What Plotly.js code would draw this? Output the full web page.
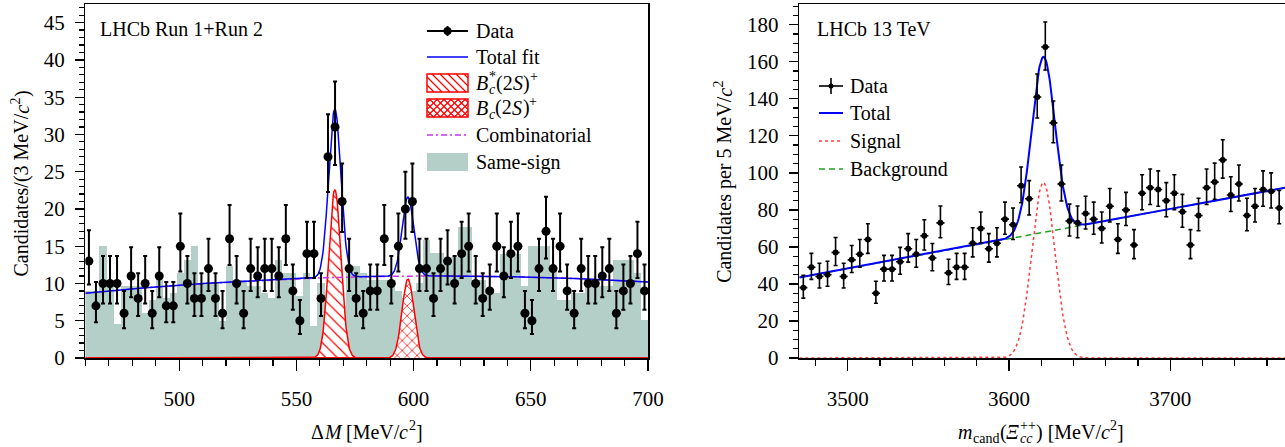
<!DOCTYPE html>
<html><head><meta charset="utf-8">
<script src="https://cdn.plot.ly/plotly-3.0.1.min.js"></script>
<style>html,body{margin:0;padding:0;background:#fff}#chart{width:1285px;height:447px}</style>
</head><body><div id="chart"></div>
<script>
// ---------------- Left panel: Delta M ----------------
const leftBinStart = 460, leftBinWidth = 3;
const leftCounts = [13,7,10,10,10,6,11,8,10,6,11,7,7,15,10,8,8,12,8,6,16,10,6,12,11,12,12,
  11,16,9,5,14,14,8,27,31,21,12,8,
  6,9,9,16,10,15,20,21,12,12,8,12,13,10,14,15,10,8,9,15,11,14,15,6,5,12,17,12,15,9,6,12,10,10,11,12,6,9,10,14,9];
const sameSign = [9.0,9.0,15,9.6,4.5,9.6,9.6,9.6,6,7.8,10.5,8,8.7,11.4,13.2,15,10,10,10,5,12.3,10.5,10.5,9.6,9.6,8.7,8,
  13.2,11.4,11.4,8.3,11.4,4.3,10,8,9,7,12.3,12.3,11.4,10.5,10.5,10.5,9.5,9,8,9,10,15.9,14.1,14.1,13.6,13.6,17.6,17.6,
  10.5,10.5,8.7,8.7,14,14,14,9.6,15,15,15,12.3,7.8,7.8,8.7,8.7,9.6,9.6,9.6,9.6,13.2,13.2,13.2,11.4,5.1];
// fit parameters
const combPar = {a: 8.7, b: 0.03068, c: -1.018e-4, x0: 460};
const bcStar = {mean: 566.4, amp: 22.6, sigma: 2.6};
const bc2S = {mean: 597.6, amp: 10.6, sigma: 2.5};

// ---------------- Right panel: Xi_cc ----------------
const rightBinStart = 3470, rightBinWidth = 5;
const rightCounts = [38,49,44,45,57,44,53,56,64,35,48,48,52,59,56,66,54,73,46,49,49,62,70,59,62,75,72,93,
  86,141,168,127,94,74,73,78,75,70,82,64,80,61,89,92,91,85,89,79,61,77,92,95,107,88,94,77,82,91,90,81];
const bkgPar = {a: 43.5, slope: 0.161, x0: 3470};
const sigPar = {mean: 3621.3, amp: 94.8, sigma: 7.2};

// tick labels
const leftXTicks = [500,550,600,650,700];
const leftYTicks = [0,5,10,15,20,25,30,35,40,45];
const rightXTicks = [3500,3600,3700];
const rightYTicks = [0,20,40,60,80,100,120,140,160,180];

// texts (rich pieces: i = italic, sup/sub = script, stack = no advance)
const leftLegend = ['Data', 'Total fit',
  [{t: 'B', i: 1}, {t: 'c', i: 1, sub: 1, stack: 1}, {t: '*', sup: 1}, '(2', {t: 'S', i: 1}, ')', {t: '+', sup: 1}],
  [{t: 'B', i: 1}, {t: 'c', i: 1, sub: 1}, '(2', {t: 'S', i: 1}, ')', {t: '+', sup: 1}],
  'Combinatorial', 'Same-sign'];
const rightLegend = ['Data', 'Total', 'Signal', 'Background'];
const leftYTitle = ['Candidates/(3 MeV/', {t: 'c', i: 1}, {t: '2', sup: 1}, ')'];
const rightYTitle = ['Candidates per 5 MeV/', {t: 'c', i: 1}, {t: '2', sup: 1}];
const leftXTitle = ['Δ', {t: 'M', i: 1}, ' [MeV/', {t: 'c', i: 1}, {t: '2', sup: 1}, ']'];
const rightXTitle = [{t: 'm', i: 1}, {t: 'cand', sub: 1}, '(', {t: 'Ξ', i: 1}, {t: '++', sup: 1, stack: 1}, {t: 'cc', i: 1, sub: 1},
  ') [MeV/', {t: 'c', i: 1}, {t: '2', sup: 1}, ']'];

// ---------------- helpers ----------------
const W = 1285, H = 447, MT = 4, MB = 89, PH = H - MT - MB;
const pX = x => x / W;
const pY = y => (H - MB - y) / PH;
const FONTNAME = 'Liberation Serif';
const FONT = 'Liberation Serif, Times New Roman, serif';
const gauss = (x, g) => g.amp * Math.exp(-0.5 * Math.pow((x - g.mean) / g.sigma, 2));
const errUp = n => 0.5 + Math.sqrt(n + 0.25);
const errDn = n => -0.5 + Math.sqrt(n + 0.25);

const lx = leftCounts.map((_, i) => leftBinStart + leftBinWidth * (i + 0.5));
const rx = rightCounts.map((_, i) => rightBinStart + rightBinWidth * (i + 0.5));

const fineL = [], fineR = [];
for (let x = 460; x <= 700.001; x += 0.25) fineL.push(x);
for (let x = 3470; x <= 3772.001; x += 0.5) fineR.push(x);
const comb = x => combPar.a + combPar.b * (x - combPar.x0) + combPar.c * Math.pow(x - combPar.x0, 2);
const bkg = x => bkgPar.a + bkgPar.slope * (x - bkgPar.x0);

const RED = '#ff0000', BLUE = '#0000ff', MAG = '#cc33ee', TEAL = '#b3cfc7', GREEN = '#22a022', SIGRED = '#ff3b3b';

const traces = [
  {type: 'bar', x: lx, y: sameSign, width: leftBinWidth, marker: {color: TEAL, line: {width: 0}},
   xaxis: 'x', yaxis: 'y', showlegend: false, hoverinfo: 'skip'},
  {type: 'scatter', mode: 'lines', x: fineL, y: fineL.map(x => gauss(x, bcStar)), fill: 'tozeroy',
   fillcolor: 'white', fillpattern: {shape: '\\', fgcolor: RED, bgcolor: 'white', size: 8, solidity: 0.15},
   line: {color: RED, width: 1.5}, xaxis: 'x', yaxis: 'y', showlegend: false},
  {type: 'scatter', mode: 'lines', x: fineL, y: fineL.map(x => gauss(x, bc2S)), fill: 'tozeroy',
   fillcolor: 'white', fillpattern: {shape: 'x', fgcolor: RED, bgcolor: 'white', size: 7, solidity: 0.2},
   line: {color: RED, width: 1.5}, xaxis: 'x', yaxis: 'y', showlegend: false},
  {type: 'scatter', mode: 'lines', x: fineL, y: fineL.map(comb),
   line: {color: MAG, width: 1.5, dash: '6px,3px,2px,3px'}, xaxis: 'x', yaxis: 'y', showlegend: false},
  {type: 'scatter', mode: 'lines', x: fineL, y: fineL.map(x => comb(x) + gauss(x, bcStar) + gauss(x, bc2S)),
   line: {color: BLUE, width: 1.5}, xaxis: 'x', yaxis: 'y', showlegend: false},
  {type: 'scatter', mode: 'markers', x: lx, y: leftCounts, marker: {color: 'black', size: 9},
   error_y: {type: 'data', symmetric: false, array: leftCounts.map(errUp), arrayminus: leftCounts.map(errDn), color: 'black', thickness: 2, width: 2},
   error_x: {type: 'constant', value: leftBinWidth / 2, color: 'black', thickness: 2, width: 0},
   xaxis: 'x', yaxis: 'y', showlegend: false},
  // right
  {type: 'scatter', mode: 'lines', x: fineR, y: fineR.map(x => gauss(x, sigPar)),
   line: {color: SIGRED, width: 1.5, dash: 'dot'}, xaxis: 'x2', yaxis: 'y2', showlegend: false},
  {type: 'scatter', mode: 'lines', x: fineR, y: fineR.map(bkg),
   line: {color: GREEN, width: 1.5, dash: '6px,4px'}, xaxis: 'x2', yaxis: 'y2', showlegend: false},
  {type: 'scatter', mode: 'lines', x: fineR, y: fineR.map(x => bkg(x) + gauss(x, sigPar)),
   line: {color: BLUE, width: 2}, xaxis: 'x2', yaxis: 'y2', showlegend: false},
  {type: 'scatter', mode: 'markers', x: rx, y: rightCounts, marker: {color: 'black', size: 6},
   error_y: {type: 'data', symmetric: false, array: rightCounts.map(errUp), arrayminus: rightCounts.map(errDn), color: 'black', thickness: 1.6, width: 2},
   error_x: {type: 'constant', value: rightBinWidth / 2, color: 'black', thickness: 1.6, width: 0},
   xaxis: 'x2', yaxis: 'y2', showlegend: false}
];

const axCommon = {showgrid: false, zeroline: false, showline: true, mirror: true, linecolor: 'black', linewidth: 1.5,
  ticks: 'outside', tickcolor: 'black', tickwidth: 1.3, tickfont: {family: FONT, size: 21, color: 'black'}};
const layout = {
  width: W, height: H, margin: {l: 0, r: 0, t: MT, b: MB}, paper_bgcolor: 'white', plot_bgcolor: 'white',
  font: {family: FONT, color: 'black'}, showlegend: false, bargap: 0,
  xaxis: Object.assign({}, axCommon, {domain: [85.4 / W, 648 / W], range: [460, 700], anchor: 'y',
    tickmode: 'array', tickvals: leftXTicks, ticklen: 11, ticklabelstandoff: 10,
    minor: {dtick: 10, tick0: 460, ticklen: 6, tickcolor: 'black', ticks: 'outside', tickwidth: 1.2}}),
  yaxis: Object.assign({}, axCommon, {domain: [0, 1], range: [0, 47.5], anchor: 'x',
    tickmode: 'array', tickvals: leftYTicks, ticklen: 9, ticklabelstandoff: 6,
    minor: {dtick: 1, tick0: 0, ticklen: 5, tickcolor: 'black', ticks: 'outside', tickwidth: 1.2}}),
  xaxis2: Object.assign({}, axCommon, {domain: [799.3 / W, 1], range: [3470, 3771.1], anchor: 'y2',
    tickmode: 'array', tickvals: rightXTicks, ticklen: 11, ticklabelstandoff: 10,
    minor: {dtick: 20, tick0: 3460, ticklen: 6, tickcolor: 'black', ticks: 'outside', tickwidth: 1.2}}),
  yaxis2: Object.assign({}, axCommon, {domain: [0, 1], range: [0, 191.2], anchor: 'x2',
    tickmode: 'array', tickvals: rightYTicks, ticklen: 9, ticklabelstandoff: 6,
    minor: {dtick: 5, tick0: 0, ticklen: 5, tickcolor: 'black', ticks: 'outside', tickwidth: 1.2}}),
  shapes: [], annotations: []
};

function ann(text, x, y, opts) {
  layout.annotations.push(Object.assign({text: text, xref: 'paper', yref: 'paper', x: pX(x), y: pY(y),
    xanchor: 'left', yanchor: 'middle', showarrow: false, borderpad: 0, borderwidth: 0,
    font: {family: FONT, size: 20, color: 'black'}}, opts || {}));
}
const mctx = document.createElement('canvas').getContext('2d');
function measure(t, size, italic) {
  mctx.font = (italic ? 'italic ' : '') + size + 'px "' + FONTNAME + '"';
  return mctx.measureText(t).width;
}
// lays out text pieces one after another, each as its own annotation
function rich(pieces, x, y, o) {
  const S = o.size || 20;
  if (typeof pieces === 'string') pieces = [pieces];
  const items = [];
  let total = 0, pending = 0;
  pieces.forEach(p => {
    if (typeof p === 'string') p = {t: p};
    const sz = (p.sup || p.sub) ? Math.round(S * 0.7) : S;
    let t = p.t, lead = 0, trail = 0;
    if (/^\s/.test(t)) { lead = measure(' ', sz, false); t = t.replace(/^\s+/, ''); }
    if (/\s$/.test(t)) { trail = measure(' ', sz, false); t = t.replace(/\s+$/, ''); }
    const w = measure(t, sz, !!p.i);
    const adv = lead + w + trail + (p.i && !p.sup && !p.sub ? S * 0.04 : 0);
    items.push({t: p.i ? '<i>' + t + '</i>' : t, sz: sz, off: p.sup ? -0.33 * S : (p.sub ? 0.31 * S : 0), pos: total + lead});
    if (p.stack) { pending = adv; }
    else { total += Math.max(adv, pending); pending = 0; }
  });
  items.forEach(it => {
    const f = {family: FONT, size: it.sz, color: 'black'};
    if (o.rot) {
      const y0 = o.align === 'center' ? y + total / 2 : y;
      ann(it.t, x + it.off, y0 - it.pos, {xanchor: 'center', yanchor: 'bottom', textangle: -90, font: f});
    } else {
      const x0 = o.align === 'center' ? x - total / 2 : x;
      ann(it.t, x0 + it.pos, y + it.off, {xanchor: 'left', yanchor: 'middle', font: f});
    }
  });
}
function seg(x0, y0, x1, y1, line) {
  layout.shapes.push({type: 'line', xref: 'paper', yref: 'paper', x0: pX(x0), y0: pY(y0), x1: pX(x1), y1: pY(y1), line: line});
}
function rect(x0, y0, x1, y1, fill, line) {
  layout.shapes.push({type: 'rect', xref: 'paper', yref: 'paper', x0: pX(x0), y0: pY(y0), x1: pX(x1), y1: pY(y1),
    fillcolor: fill, line: line || {width: 0}});
}
function hatch(x0, y0, x1, y1, dir, step) {
  // dir +1: screen y = x + c (a "\" line), -1: screen y = -x + c (a "/" line)
  let d = '';
  const cMin = dir > 0 ? y0 - x1 : y0 + x0;
  const cMax = dir > 0 ? y1 - x0 : y1 + x1;
  for (let c = cMin + step / 2; c < cMax; c += step) {
    let xa, xb;
    if (dir > 0) { xa = Math.max(x0, y0 - c); xb = Math.min(x1, y1 - c); }
    else { xa = Math.max(x0, c - y1); xb = Math.min(x1, c - y0); }
    if (xb <= xa) continue;
    const ya = dir > 0 ? xa + c : -xa + c, yb = dir > 0 ? xb + c : -xb + c;
    d += `M${pX(xa).toFixed(5)},${pY(ya).toFixed(5)}L${pX(xb).toFixed(5)},${pY(yb).toFixed(5)}`;
  }
  layout.shapes.push({type: 'path', xref: 'paper', yref: 'paper', path: d, line: {color: RED, width: 1.2}});
}
function dot(cx, cy, r) {
  layout.shapes.push({type: 'circle', xref: 'paper', yref: 'paper', x0: pX(cx - r), x1: pX(cx + r), y0: pY(cy + r), y1: pY(cy - r),
    fillcolor: 'black', line: {width: 0}});
}

function build() {
  // titles and labels
  rich('LHCb Run 1+Run 2', 100, 29, {});
  rich('LHCb 13 TeV', 817, 29, {});
  rich(leftYTitle, 22, 184, {rot: true, align: 'center'});
  rich(rightYTitle, 725, 182, {rot: true, align: 'center'});
  rich(leftXTitle, 366.7, 432, {align: 'center'});
  rich(rightXTitle, 1041, 432, {align: 'center'});

  // left legend
  const LL = {x0: 427, x1: 468, tx: 476, ys: [31, 57, 83, 108, 135, 162]};
  seg(LL.x0, LL.ys[0], LL.x1, LL.ys[0], {color: 'black', width: 2});
  seg((LL.x0 + LL.x1) / 2, LL.ys[0] - 5, (LL.x0 + LL.x1) / 2, LL.ys[0] + 5, {color: 'black', width: 2});
  dot((LL.x0 + LL.x1) / 2, LL.ys[0], 4);
  seg(LL.x0, LL.ys[1], LL.x1, LL.ys[1], {color: BLUE, width: 1.5});
  rect(LL.x0, LL.ys[2] - 9, LL.x1, LL.ys[2] + 9, 'white', {color: RED, width: 1.5});
  hatch(LL.x0, LL.ys[2] - 9, LL.x1, LL.ys[2] + 9, 1, 8);
  rect(LL.x0, LL.ys[3] - 9, LL.x1, LL.ys[3] + 9, 'white', {color: RED, width: 1.5});
  hatch(LL.x0, LL.ys[3] - 9, LL.x1, LL.ys[3] + 9, 1, 7);
  hatch(LL.x0, LL.ys[3] - 9, LL.x1, LL.ys[3] + 9, -1, 7);
  seg(LL.x0, LL.ys[4], LL.x1, LL.ys[4], {color: MAG, width: 1.5, dash: '6px,3px,2px,3px'});
  rect(LL.x0, LL.ys[5] - 9, LL.x1, LL.ys[5] + 9, TEAL);
  leftLegend.forEach((t, i) => rich(t, LL.tx, LL.ys[i], {}));

  // right legend
  const RL = {x0: 819, x1: 843, tx: 850, ys: [86, 113, 141, 169]};
  seg(RL.x0, RL.ys[0], RL.x1, RL.ys[0], {color: 'black', width: 1.6});
  seg((RL.x0 + RL.x1) / 2, RL.ys[0] - 8, (RL.x0 + RL.x1) / 2, RL.ys[0] + 8, {color: 'black', width: 1.6});
  dot((RL.x0 + RL.x1) / 2, RL.ys[0], 2.5);
  seg(RL.x0, RL.ys[1], RL.x1, RL.ys[1], {color: BLUE, width: 2});
  seg(RL.x0, RL.ys[2], RL.x1, RL.ys[2], {color: SIGRED, width: 1.5, dash: 'dot'});
  seg(RL.x0, RL.ys[3], RL.x1, RL.ys[3], {color: GREEN, width: 1.5, dash: '6px,4px'});
  rightLegend.forEach((t, i) => rich(t, RL.tx, RL.ys[i], {}));

  Plotly.newPlot('chart', traces, layout, {staticPlot: true, displayModeBar: false});
}
if (document.fonts && document.fonts.load) {
  Promise.all([document.fonts.load('20px "' + FONTNAME + '"'), document.fonts.load('italic 20px "' + FONTNAME + '"')])
    .then(build, build);
} else { build(); }
</script></body></html>
